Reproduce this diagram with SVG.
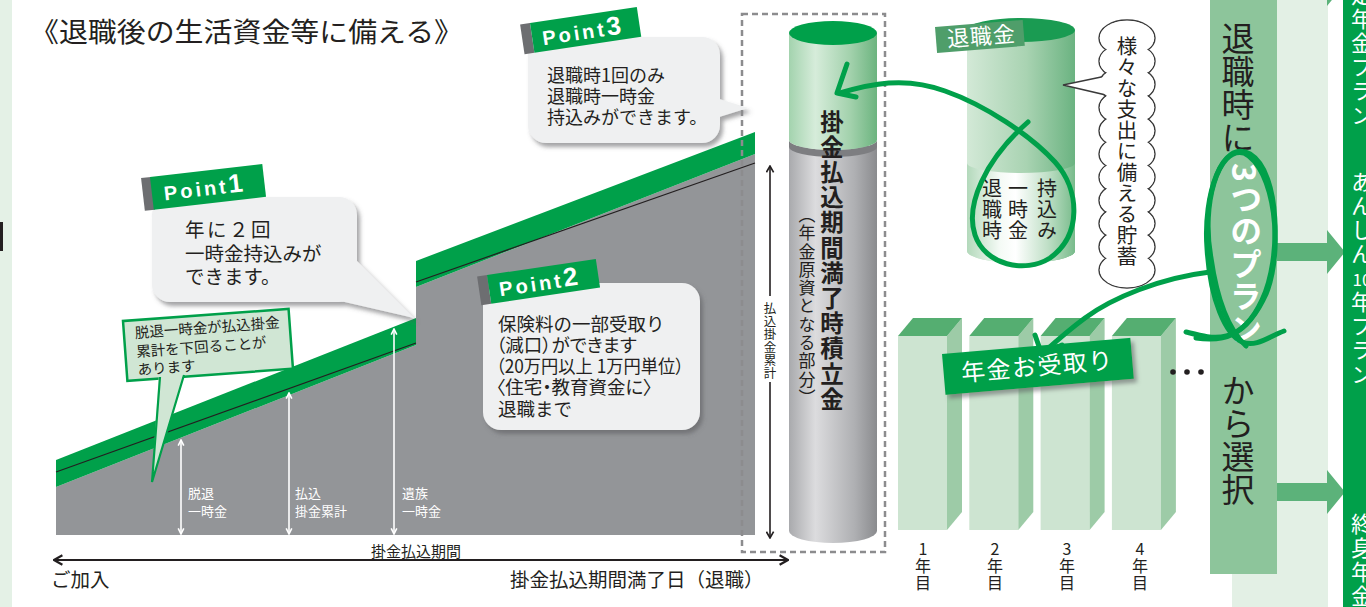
<svg xmlns="http://www.w3.org/2000/svg" width="1366" height="607" viewBox="0 0 1366 607">
  <defs>
    <style>
      text { font-family: "Noto Sans CJK JP", "Noto Sans", sans-serif; fill: #231f20; }
      .vt { writing-mode: vertical-rl; }
      .up { text-orientation: upright; }
      .wt { fill: #ffffff; }
      .pt { font-family: "Liberation Sans", Arial, sans-serif; font-weight: bold; fill: #ffffff; font-size: 20px; letter-spacing: 3px; }
      .pt .n { font-size: 26px; letter-spacing: 0; }
      .callout { fill: #eff0f1; }
      .tag { fill: #00a04a; }
      .tagEdge { fill: #6d6e71; }
      .band { fill: #00a04a; }
      .hand { fill: none; stroke: #00a04a; stroke-width: 5; stroke-linecap: round; stroke-linejoin: round; }
      .barFront { fill: #cde4d1; }
      .barSide { fill: #9dcba7; }
      .barTop { fill: #55ae71; }
      .planArrow { fill: #5cb27a; }
      .bubbleLine { fill: #ffffff; stroke: #3a3a3a; stroke-width: 1.4; }
      .bubbleFill { fill: #ffffff; }
      .palt { font-feature-settings: "palt"; }
    </style>
    <filter id="shadow" x="-10%" y="-10%" width="130%" height="140%">
      <feDropShadow dx="3" dy="4" stdDeviation="2" flood-color="#58595b" flood-opacity="0.55"/>
    </filter>
    <marker id="headW" viewBox="0 0 10 10" refX="9" refY="5" markerWidth="8" markerHeight="8" markerUnits="userSpaceOnUse" orient="auto-start-reverse">
      <path d="M2,1.5 L9,5 L2,8.5" fill="none" stroke="#ffffff" stroke-width="2"/>
    </marker>
    <marker id="headK" viewBox="0 0 10 10" refX="9" refY="5" markerWidth="12" markerHeight="12" markerUnits="userSpaceOnUse" orient="auto-start-reverse">
      <path d="M2,1 L9,5 L2,9" fill="none" stroke="#231f20" stroke-width="1.8"/>
    </marker>
    <marker id="headKs" viewBox="0 0 10 10" refX="9" refY="5" markerWidth="9" markerHeight="9" markerUnits="userSpaceOnUse" orient="auto-start-reverse">
      <path d="M2,1 L9,5 L2,9" fill="none" stroke="#231f20" stroke-width="1.8"/>
    </marker>
    <linearGradient id="gGreenCyl" x1="0" x2="1" y1="0" y2="0">
      <stop offset="0" stop-color="#a3d3ae"/>
      <stop offset="0.3" stop-color="#d6ecda"/>
      <stop offset="0.7" stop-color="#a2d1ac"/>
      <stop offset="1" stop-color="#6cb47f"/>
    </linearGradient>
    <linearGradient id="gGrayCyl" x1="0" x2="1" y1="0" y2="0">
      <stop offset="0" stop-color="#a9aaad"/>
      <stop offset="0.3" stop-color="#dcdcde"/>
      <stop offset="0.75" stop-color="#aeafb2"/>
      <stop offset="1" stop-color="#8a8b8e"/>
    </linearGradient>
    <linearGradient id="gRetire" x1="0" x2="1" y1="0" y2="0">
      <stop offset="0" stop-color="#d3e9d7"/>
      <stop offset="0.55" stop-color="#a9d3b2"/>
      <stop offset="1" stop-color="#6bb381"/>
    </linearGradient>
    <linearGradient id="gRetireLow" x1="0" x2="1" y1="0" y2="0">
      <stop offset="0" stop-color="#b3d9bb"/>
      <stop offset="0.3" stop-color="#f4faf5"/>
      <stop offset="0.45" stop-color="#ffffff"/>
      <stop offset="0.75" stop-color="#bfdfc6"/>
      <stop offset="1" stop-color="#78bb8b"/>
    </linearGradient>
    <path id="planArrowShape" d="M1277,-9 L1327,-9 L1327,-22 L1345,0 L1327,22 L1327,9 L1277,9 Z"/>
    <g id="bar">
      <rect class="barFront" x="0" y="18" width="49" height="194"/>
      <polygon class="barSide" points="49,18 64,0 64,194 49,212"/>
      <polygon class="barTop" points="0,18 15,0 64,0 49,18"/>
    </g>
  </defs>

  <rect width="1366" height="607" fill="#ffffff"/>

  <!-- page margin strip -->
  <g id="margin">
    <rect x="0" y="0" width="12" height="607" fill="#e4f1e6"/>
    <rect x="0" y="222" width="3" height="29" fill="#231f20"/>
  </g>

  <g id="title">
    <text x="30" y="42" font-size="27" textLength="433" lengthAdjust="spacingAndGlyphs">《退職後の生活資金等に備える》</text>
  </g>

  <!-- accumulation chart -->
  <g id="accumulation">
    <polygon points="56,487 416,345 416,287 755,154 755,535 56,535" fill="#939598"/>
    <polygon class="band" points="56,460 416,318 416,345 56,487"/>
    <polygon class="band" points="416,261 755,132 755,154 416,287"/>
    <line x1="56" y1="472" x2="416" y2="343" stroke="#231f20" stroke-width="1.2"/>
    <line x1="416" y1="282" x2="755" y2="163" stroke="#231f20" stroke-width="1.2"/>
  </g>

  <g id="level-arrows" stroke="#ffffff" stroke-width="1.6">
    <line x1="181" y1="440" x2="181" y2="534" marker-start="url(#headW)" marker-end="url(#headW)"/>
    <line x1="289" y1="393" x2="289" y2="534" marker-start="url(#headW)" marker-end="url(#headW)"/>
    <line x1="394" y1="329" x2="394" y2="534" marker-start="url(#headW)" marker-end="url(#headW)"/>
  </g>
  <g id="level-labels" font-size="13">
    <text class="wt" x="188" y="498">脱退</text>
    <text class="wt" x="188" y="516">一時金</text>
    <text class="wt" x="295" y="498">払込</text>
    <text class="wt" x="295" y="516">掛金累計</text>
    <text class="wt" x="402" y="498">遺族</text>
    <text class="wt" x="402" y="516">一時金</text>
  </g>

  <!-- Point 1 -->
  <g id="point1">
    <g filter="url(#shadow)">
      <rect class="callout" x="152" y="197" width="205" height="105" rx="18"/>
      <polygon class="callout" points="352,256 414,318 336,300"/>
    </g>
    <g transform="rotate(-6.6 150 177)">
      <rect class="tagEdge" x="141" y="177" width="10" height="33"/>
      <rect class="tag" x="150" y="177" width="113" height="33"/>
      <text class="pt" x="162" y="202">Point<tspan class="n">1</tspan></text>
    </g>
    <g font-size="19.5">
      <text x="185" y="237" letter-spacing="2.5">年に２回</text>
      <text x="185" y="261">一時金持込みが</text>
      <text x="185" y="284">できます。</text>
    </g>
  </g>

  <!-- note under point 1 -->
  <g id="note">
    <g transform="rotate(-4.2 123 321)">
      <rect x="123" y="321" width="166" height="60" fill="#d0e6d4" stroke="#00a04a" stroke-width="2.5"/>
    </g>
    <polygon points="159,372 152,482 185,370" fill="#d0e6d4"/>
    <polyline points="160,377 152,482 184,375" fill="none" stroke="#00a04a" stroke-width="2.2" stroke-linejoin="miter"/>
    <g transform="rotate(-4.2 123 321)" font-size="14.5">
      <text x="134" y="339">脱退一時金が払込掛金</text>
      <text x="134" y="358">累計を下回ることが</text>
      <text x="134" y="376">あります</text>
    </g>
  </g>

  <!-- Point 2 -->
  <g id="point2">
    <rect class="callout" x="483" y="283" width="217" height="147" rx="18" filter="url(#shadow)"/>
    <g transform="rotate(-8.4 487 275)">
      <rect class="tagEdge" x="477" y="275" width="10" height="29"/>
      <rect class="tag" x="487" y="275" width="110" height="29"/>
      <text class="pt" x="497" y="298">Point<tspan class="n">2</tspan></text>
    </g>
    <g font-size="18.5">
      <text x="498" y="331">保険料の一部受取り</text>
      <text class="palt" x="496" y="352">（減口）ができます</text>
      <text class="palt" x="496" y="373" textLength="188" lengthAdjust="spacingAndGlyphs">（20万円以上  1万円単位）</text>
      <text class="palt" x="496" y="394">〈住宅・教育資金に〉</text>
      <text x="498" y="416">退職まで</text>
    </g>
  </g>

  <!-- Point 3 -->
  <g id="point3">
    <g filter="url(#shadow)">
      <rect class="callout" x="528" y="37" width="192" height="106" rx="18"/>
      <polygon class="callout" points="716,98 748,108 716,118"/>
    </g>
    <g transform="rotate(-8.5 530 23)">
      <rect class="tagEdge" x="520" y="23" width="10" height="30"/>
      <rect class="tag" x="530" y="23" width="108" height="30"/>
      <text class="pt" x="540" y="47">Point<tspan class="n">3</tspan></text>
    </g>
    <g font-size="18">
      <text x="547" y="82">退職時1回のみ</text>
      <text x="547" y="103">退職時一時金</text>
      <text x="547" y="124">持込みができます。</text>
    </g>
  </g>

  <!-- time axis -->
  <g id="time-axis">
    <line x1="54" y1="560" x2="788" y2="560" stroke="#231f20" stroke-width="2.2" marker-start="url(#headK)" marker-end="url(#headK)"/>
    <text x="416" y="557" font-size="15" text-anchor="middle">掛金払込期間</text>
    <text x="51" y="587" font-size="19.5">ご加入</text>
    <text x="510" y="587" font-size="19.5">掛金払込期間満了日（退職）</text>
  </g>

  <!-- maturity fund -->
  <g id="maturity">
    <rect x="742" y="14" width="143" height="538" fill="none" stroke="#8c8c8e" stroke-width="2.5" stroke-dasharray="6 4"/>
    <path d="M789,146 L789,531 A44,12 0 0 0 877,531 L877,146 Z" fill="url(#gGrayCyl)"/>
    <path d="M789,140 A44,10 0 0 0 877,140 L877,147 A44,10 0 0 1 789,147 Z" fill="#7d7e81"/>
    <path d="M789,33 L789,140 A44,10 0 0 0 877,140 L877,33 Z" fill="url(#gGreenCyl)"/>
    <ellipse cx="833" cy="33" rx="44" ry="12" fill="#00a04a"/>
    <text class="vt" x="832" y="110" font-size="23.5" font-weight="bold" letter-spacing="1.7">掛金払込期間満了時積立金</text>
    <text class="vt" x="807" y="206" font-size="17" letter-spacing="1.3">（年金原資となる部分）</text>
    <line x1="770" y1="296" x2="770" y2="166" stroke="#231f20" stroke-width="1.6" marker-end="url(#headKs)"/>
    <line x1="770" y1="382" x2="770" y2="538" stroke="#231f20" stroke-width="1.6" marker-end="url(#headKs)"/>
    <text class="vt" x="770" y="302" font-size="12.5" letter-spacing="0.5" fill="#414042">払込掛金累計</text>
  </g>

  <!-- retirement allowance -->
  <g id="retirement">
    <path d="M967,30 L967,251 A54,12 0 0 0 1075,251 L1075,30 Z" fill="url(#gRetire)"/>
    <path d="M967,163 A54,10 0 0 0 1075,163 L1075,251 A54,12 0 0 1 967,251 Z" fill="url(#gRetireLow)"/>
    <ellipse cx="1021" cy="30" rx="54" ry="12" fill="#1a9b52"/>
    <g transform="rotate(-4.6 935 27)">
      <rect x="935" y="27" width="88" height="26" fill="#4f9e6a"/>
      <text class="wt" x="946" y="48" font-size="22" letter-spacing="1">退職金</text>
    </g>
    <g font-size="20" letter-spacing="1">
      <text class="vt" x="1047" y="178">持込み</text>
      <text class="vt" x="1018" y="178">一時金</text>
      <text class="vt" x="992" y="178">退職時</text>
    </g>
  </g>

  <!-- savings bubble -->
  <g id="savings">
    <g class="bubbleLine">
      <ellipse cx="1127" cy="38" rx="28" ry="18"/>
      <ellipse cx="1127" cy="61.2" rx="28" ry="18"/>
      <ellipse cx="1127" cy="84.4" rx="28" ry="18"/>
      <ellipse cx="1127" cy="107.6" rx="28" ry="18"/>
      <ellipse cx="1127" cy="130.8" rx="28" ry="18"/>
      <ellipse cx="1127" cy="154" rx="28" ry="18"/>
      <ellipse cx="1127" cy="177.2" rx="28" ry="18"/>
      <ellipse cx="1127" cy="200.4" rx="28" ry="18"/>
      <ellipse cx="1127" cy="223.6" rx="28" ry="18"/>
      <ellipse cx="1127" cy="246.8" rx="28" ry="18"/>
      <ellipse cx="1127" cy="270" rx="28" ry="18"/>
      <polygon points="1106,76 1063,85 1106,95"/>
    </g>
    <g class="bubbleFill">
      <ellipse cx="1127" cy="38" rx="27.2" ry="17.2"/>
      <ellipse cx="1127" cy="61.2" rx="27.2" ry="17.2"/>
      <ellipse cx="1127" cy="84.4" rx="27.2" ry="17.2"/>
      <ellipse cx="1127" cy="107.6" rx="27.2" ry="17.2"/>
      <ellipse cx="1127" cy="130.8" rx="27.2" ry="17.2"/>
      <ellipse cx="1127" cy="154" rx="27.2" ry="17.2"/>
      <ellipse cx="1127" cy="177.2" rx="27.2" ry="17.2"/>
      <ellipse cx="1127" cy="200.4" rx="27.2" ry="17.2"/>
      <ellipse cx="1127" cy="223.6" rx="27.2" ry="17.2"/>
      <ellipse cx="1127" cy="246.8" rx="27.2" ry="17.2"/>
      <ellipse cx="1127" cy="270" rx="27.2" ry="17.2"/>
    </g>
    <text class="vt" x="1127" y="36" font-size="20.5" letter-spacing="0.5">様々な支出に備える貯蓄</text>
  </g>

  <!-- annual pension bars -->
  <g id="pension-bars">
    <use href="#bar" transform="translate(898 318)"/>
    <use href="#bar" transform="translate(969.3 318)"/>
    <use href="#bar" transform="translate(1040.6 318)"/>
    <use href="#bar" transform="translate(1111.9 318)"/>
    <g font-size="16" letter-spacing="1">
      <text class="vt up" x="923" y="541">1年目</text>
      <text class="vt up" x="995" y="541">2年目</text>
      <text class="vt up" x="1067" y="541">3年目</text>
      <text class="vt up" x="1140" y="541">4年目</text>
    </g>
    <circle cx="1173" cy="372" r="2.8" fill="#231f20"/>
    <circle cx="1187" cy="372" r="2.8" fill="#231f20"/>
    <circle cx="1201" cy="372" r="2.8" fill="#231f20"/>
  </g>

  <g id="pension-label">
    <g transform="rotate(-4.9 942 354)">
      <rect x="942" y="354" width="189" height="41" fill="#00a04a" filter="url(#shadow)"/>
      <text class="wt" x="1036" y="383" font-size="24" letter-spacing="1.5" text-anchor="middle">年金お受取り</text>
    </g>
  </g>

  <!-- plan choice column -->
  <g id="plan-choice">
    <rect x="1232" y="0" width="96" height="607" fill="#e3f0e5"/>
    <rect x="1210" y="0" width="67" height="574" fill="#8dc59b"/>
    <use class="planArrow" href="#planArrowShape" transform="translate(0 -16)"/>
    <use class="planArrow" href="#planArrowShape" transform="translate(0 252)"/>
    <use class="planArrow" href="#planArrowShape" transform="translate(0 492)"/>
    <text class="vt" x="1238" y="22" font-size="33">退職時に</text>
    <text class="vt wt" x="1246" y="163" font-size="32" font-weight="bold" letter-spacing="0.5">3つのプラン</text>
    <text class="vt" x="1238" y="374" font-size="33">から選択</text>
  </g>

  <g id="plans">
    <rect x="1343" y="0" width="23" height="607" fill="#00a04a"/>
    <g font-size="22" letter-spacing="2">
      <text class="vt wt" x="1362" y="-40">確定年金プラン</text>
      <text class="vt wt" x="1362" y="171">あんしん</text>
      <text class="wt" x="1362" y="286" font-size="17" text-anchor="middle" letter-spacing="0">10</text>
      <text class="vt wt" x="1362" y="291">年プラン</text>
      <text class="vt wt" x="1362" y="513">終身年金プラン</text>
    </g>
  </g>

  <!-- hand-drawn connectors -->
  <g id="connectors">
    <path class="hand" d="M840,93 C870,84 905,76 945,91 C985,105 1030,135 1055,162 C1080,190 1082,235 1050,258 C1025,274 985,265 975,235 C965,205 985,160 1028,122"/>
    <path class="hand" d="M847,64 L837,93 L856,97"/>
    <path class="hand" stroke-width="4" d="M1186,332 C1210,338 1240,348 1262,300 C1282,258 1280,172 1250,154 C1222,138 1203,195 1207,248 C1210,300 1226,335 1242,342 C1256,348 1270,336 1284,331"/>
    <path class="hand" stroke-width="3" d="M1196,338 C1222,342 1246,338 1266,294 C1284,250 1275,168 1244,153 C1218,146 1201,205 1211,258 C1217,300 1229,330 1246,346"/>
    <path class="hand" d="M1210,272 C1160,278 1112,298 1085,318 C1066,332 1052,345 1042,354"/>
    <path class="hand" d="M1035,335 L1042,355 L1062,345"/>
  </g>
</svg>
